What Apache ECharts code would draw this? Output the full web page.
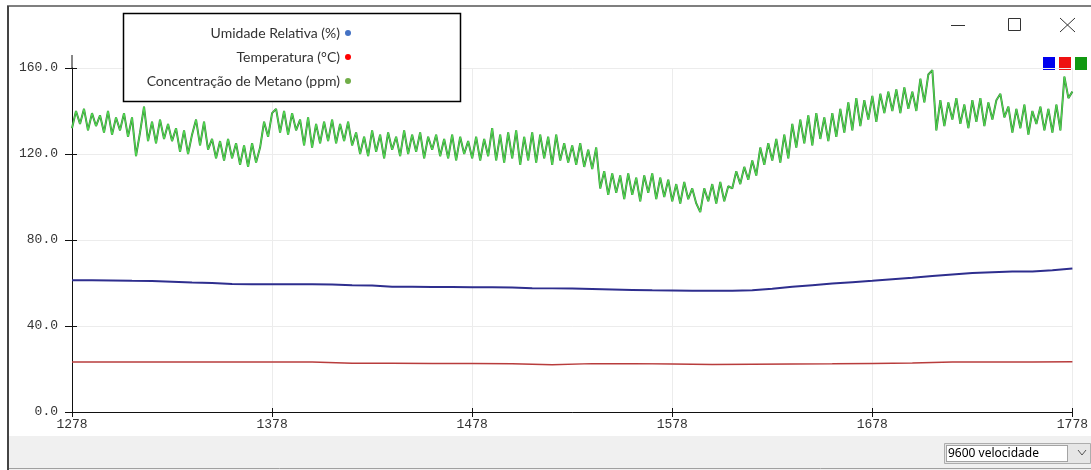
<!DOCTYPE html>
<html>
<head>
<meta charset="utf-8">
<script src="https://cdn.jsdelivr.net/npm/echarts@6/dist/echarts.min.js"></script>
<style>
  html, body { margin: 0; padding: 0; background: #fff; }
  #plot { width: 1091px; height: 470px; }
</style>
</head>
<body>
<div id="plot"></div>
<script>
const xStart = 1278;
const xTickLabels = ['1278', '1378', '1478', '1578', '1678', '1778'];
const yTicks = [0, 40, 80, 120, 160];

// metano: uma leitura a cada 2 amostras
const methaneStep = 2;
const methane = [
  132,140,134,141,131,139,133,
  138,130,140,129,137,131,139,128,137,
  119,130,142,
  126,135,125,136,127,134,126,
  132,121,131,120,129,
  136,124,135,122,
  127,118,126,117,127,118,125,
  115,124,114,125,116,123,
  135,128,139,141,130,140,129,139,131,
  136,124,137,123,134,125,135,
  126,136,125,134,126,135,124,
  130,120,128,119,131,121,129,118,130,122,128,119,131,120,129,121,130,118,128,122,129,
  119,127,118,129,117,128,120,126,118,128,117,127,119,
  132,117,129,116,130,118,131,115,128,117,130,116,129,118,128,115,129,117,
  125,116,124,115,125,
  114,122,113,123,
  104,112,101,111,102,
  110,99,111,101,109,98,110,102,111,99,109,100,108,
  98,106,97,107,99,104,97,
  93,104,
  98,106,97,107,98,105,
  104,112,106,114,108,117,110,
  123,115,125,117,127,116,129,118,
  134,123,136,125,138,124,139,127,137,126,139,
  128,141,130,144,131,146,133,145,
  136,147,135,148,139,
  149,140,150,139,151,141,149,140,
  155,144,157,159,
  131,145,133,144,136,146,134,143,132,145,135,146,133,144,136,145,
  148,137,
  142,130,141,132,143,129,140,134,142,131,141,130,143,
  131,156,146,149
];

// umidade: uma leitura a cada 10 amostras
const humidityStep = 10;
const humidity = [
  61.3,61.3,61.2,61.0,60.9,60.6,60.2,60.0,59.5,59.4,
  59.4,59.4,59.4,59.3,58.9,58.8,58.3,58.2,58.1,58.1,
  58.0,58.0,57.9,57.6,57.5,57.4,57.2,57.0,56.8,56.6,
  56.5,56.4,56.4,56.4,56.6,57.3,58.2,59.0,59.8,60.4,
  61.0,61.8,62.4,63.2,64.0,64.6,65.0,65.4,65.3,65.9,
  66.8
];

// temperatura: uma leitura a cada 20 amostras
const tempStep = 20;
const temperature = [
  23.3,23.3,23.3,23.3,23.3,23.3,23.2,22.7,22.7,22.6,
  22.6,22.4,22.0,22.5,22.5,22.3,22.1,22.2,22.3,22.4,
  22.6,22.8,23.2,23.3,23.3,23.4
];

const seriesNames = ['Umidade Relativa (%)', 'Temperatura (°C)', 'Concentração de Metano (ppm)'];
const legendDots = ['#4472c4', '#ff0000', '#70ad47'];

const chart = echarts.init(document.getElementById('plot'));

const monoLabel = { fontFamily: 'Liberation Mono', fontSize: 13, color: '#333' };
const gridLine = { show: true, lineStyle: { color: '#ececec', width: 1 } };

const xAxisBase = {
  type: 'value', position: 'bottom', min: 0, max: 500, interval: 100
};
const yAxisBase = {
  type: 'value', position: 'left', min: 0, max: 160, interval: 40
};

option = {
  backgroundColor: '#fff',
  animation: false,
  grid: { left: 72, right: 17, top: 68, bottom: 58 },
  legend: {
    orient: 'vertical',
    align: 'right',
    right: 740,
    top: 26,
    padding: 0,
    itemGap: 10,
    itemWidth: 6,
    itemHeight: 6,
    icon: 'circle',
    textStyle: { fontFamily: 'Lato', fontSize: 14, color: '#333' },
    data: seriesNames.map((n, i) => ({ name: n, itemStyle: { color: legendDots[i] } }))
  },
  xAxis: [
    Object.assign({}, xAxisBase, {
      axisLine: { lineStyle: { color: '#111', width: 1 } },
      axisTick: { length: 5, lineStyle: { color: '#111' } },
      axisLabel: Object.assign({ margin: 6, formatter: v => xTickLabels[Math.round(v / 100)] }, monoLabel),
      splitLine: gridLine
    }),
    Object.assign({}, xAxisBase, {
      axisLine: { show: false },
      axisTick: { inside: true, length: 4, lineStyle: { color: '#111' } },
      axisLabel: { show: false },
      splitLine: { show: false }
    })
  ],
  yAxis: [
    Object.assign({}, yAxisBase, {
      axisLine: { show: true, lineStyle: { color: '#111', width: 1 } },
      axisTick: { show: true, length: 7, lineStyle: { color: '#111' } },
      axisLabel: Object.assign({ margin: 14, formatter: v => v.toFixed(1) }, monoLabel),
      splitLine: gridLine
    }),
    Object.assign({}, yAxisBase, {
      axisLine: { show: false },
      axisTick: { show: true, inside: true, length: 5, lineStyle: { color: '#111' } },
      axisLabel: { show: false },
      splitLine: { show: false }
    })
  ],
  series: [
    {
      name: seriesNames[0], type: 'line', showSymbol: false,
      data: humidity.map((v, i) => [i * humidityStep, v]),
      lineStyle: { color: '#2e2e8e', width: 2 },
      itemStyle: { color: '#2e2e8e' }
    },
    {
      name: seriesNames[1], type: 'line', showSymbol: false,
      data: temperature.map((v, i) => [i * tempStep, v]),
      lineStyle: { color: '#b83c3c', width: 1.5 },
      itemStyle: { color: '#b83c3c' }
    },
    {
      name: 'contorno', type: 'line', showSymbol: false,
      data: methane.map((v, i) => [i * methaneStep, v]),
      lineStyle: { color: '#3a823a', width: 2 },
      itemStyle: { color: '#3a823a' }
    },
    {
      name: seriesNames[2], type: 'line', showSymbol: false,
      data: methane.map((v, i) => [i * methaneStep, v]),
      lineStyle: { color: '#50e050', width: 1 },
      itemStyle: { color: '#50e050' }
    }
  ],
  graphic: [
    // moldura da janela
    { type: 'line', shape: { x1: 7, y1: 6, x2: 1091, y2: 6 }, style: { stroke: '#555', lineWidth: 1.5 } },
    { type: 'line', shape: { x1: 8, y1: 6, x2: 8, y2: 470 }, style: { stroke: '#444', lineWidth: 2 } },
    // controles da janela
    { type: 'line', shape: { x1: 951, y1: 25.5, x2: 965, y2: 25.5 }, style: { stroke: '#333', lineWidth: 1 } },
    { type: 'rect', shape: { x: 1008.5, y: 18.5, width: 12, height: 12 }, style: { fill: 'none', stroke: '#333', lineWidth: 1 } },
    { type: 'line', shape: { x1: 1060, y1: 18, x2: 1075, y2: 32 }, style: { stroke: '#333', lineWidth: 1 } },
    { type: 'line', shape: { x1: 1075, y1: 18, x2: 1060, y2: 32 }, style: { stroke: '#333', lineWidth: 1 } },
    // quadrados de cor
    { type: 'rect', shape: { x: 1043, y: 57, width: 12, height: 13 }, style: { fill: '#0000ee' } },
    { type: 'rect', shape: { x: 1059, y: 57, width: 12, height: 13 }, style: { fill: '#ee1111' } },
    { type: 'rect', shape: { x: 1075, y: 57, width: 12, height: 13 }, style: { fill: '#119911' } },
    // prolongamento do eixo y
    { type: 'line', shape: { x1: 72, y1: 55, x2: 72, y2: 68 }, style: { stroke: '#111', lineWidth: 1 } },
    // caixa da legenda
    { type: 'rect', z: 3, shape: { x: 123.5, y: 13.5, width: 337, height: 88 }, style: { fill: '#fff', stroke: '#000', lineWidth: 1.5 } },
    // barra inferior
    { type: 'rect', shape: { x: 9, y: 436, width: 1082, height: 34 }, style: { fill: '#f0f0f0' } },
    { type: 'line', shape: { x1: 9, y1: 468.5, x2: 1091, y2: 468.5 }, style: { stroke: '#a0a0a0', lineWidth: 1 } },
    { type: 'rect', shape: { x: 944.5, y: 443.5, width: 146, height: 20 }, style: { fill: '#e6e6e6', stroke: '#adadad', lineWidth: 1 } },
    { type: 'rect', shape: { x: 946.5, y: 445.5, width: 121, height: 16 }, style: { fill: '#fff', stroke: '#555', lineWidth: 1, lineDash: [1, 1] } },
    { type: 'text', x: 948, y: 453.5, style: { text: '9600 velocidade', font: '12px "Noto Sans"', fill: '#000', verticalAlign: 'middle' } },
    { type: 'polyline', shape: { points: [[1078, 450], [1082, 455], [1086, 450]] }, style: { stroke: '#555', lineWidth: 1, fill: 'none' } }
  ]
};

chart.setOption(option);
</script>
</body>
</html>
